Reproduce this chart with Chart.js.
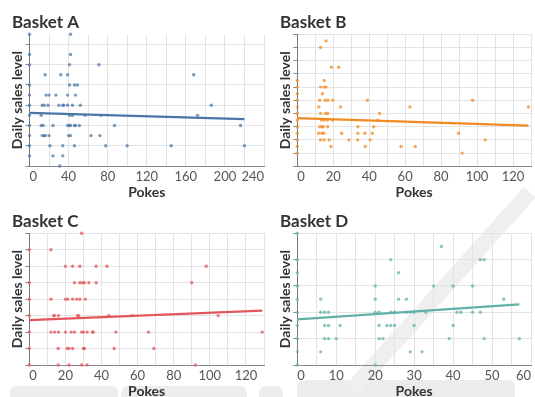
<!DOCTYPE html>
<html><head><meta charset="utf-8">
<script src="https://cdn.jsdelivr.net/npm/chart.js@4.4.1/dist/chart.umd.min.js"></script>
<style>
html,body{margin:0;padding:0;background:#fff;}
#wrap{position:relative;width:535px;height:397px;overflow:hidden;background:#fff;}
canvas{position:absolute;z-index:2;}
.wm{position:absolute;background:#ececec;border-radius:7px;z-index:1;}
</style></head><body>
<div id="wrap">
<div class="wm" style="left:10px;top:386px;width:108px;height:24px"></div>
<div class="wm" style="left:121px;top:386px;width:126px;height:24px"></div>
<div class="wm" style="left:259px;top:386px;width:24px;height:24px"></div>
<div class="wm" style="left:297px;top:380px;width:218px;height:30px"></div>
<div class="wm" style="left:308px;top:283px;width:266px;height:16px;border-radius:0;background:#efefef;transform:rotate(-48deg);"></div>
<canvas id="cA" width="268" height="200" style="left:0;top:0"></canvas>
<canvas id="cB" width="267" height="200" style="left:268px;top:0"></canvas>
<canvas id="cC" width="268" height="197" style="left:0;top:200px"></canvas>
<canvas id="cD" width="267" height="197" style="left:268px;top:200px"></canvas>
</div>
<script>
// ---------- DATA ----------
const titles = ['Basket A', 'Basket B', 'Basket C', 'Basket D'];
const xTitle = 'Pokes';
const yTitle = 'Daily sales level';

// Basket A
const pokesA = [0,42, 0,42, 0,41,71, 16,32,39,168, 0,41,46,49, 0,17,20,27,39,47,
  0,13,15,19,30,34,35,39,44,52,186, 0,12,41,44,57,73,172,
  0,12,14,24,39,41,42,46,47,51,87,216, 0,13,15,16,20,40,42,63,72,
  0,21,34,46,78,100,145,220, 0,24,34, 31];
const salesA = [13,13, 11,11, 10,10,10, 9,9,9,9, 8,8,8,8, 7,7,7,7,7,7,
  6,6,6,6,6,6,6,6,6,6,6, 5,5,5,5,5,5,5,
  4,4,4,4,4,4,4,4,4,4,4,4, 3,3,3,3,3,3,3,3,3,
  2,2,2,2,2,2,2,2, 1,1,1, 0];
const trendXA = [0, 220];
const trendYA = [5.24, 4.62];
const xTicksA = [0,20,40,60,80,100,120,140,160,180,200,220,240];
const xLabelsA = [0,40,80,120,160,200,240];
const yTicksA = [0,2,4,6,8,10,12];
const rangeA = {xMax: 240, yMax: 13};

// Basket B
const pokesB = [0,0,0,0,0,0,0,0,0,0,0,0,
  16, 13, 19,23, 15, 13,15,16, 14,
  12.5,15.5,17,19.7,39,97.5,
  12,24,62.6,128.6,
  13,15.7,16.9,45.8,
  13.5,15,16.7,19.5,44.7,
  12.5,13.7,14.4,16.9,33.7,42.5,
  11.8,13.7,14.7,24.7,33.7,37.6,41.7,89.7,
  12.9,14.9,17.8,28.7,33.6,40.5,104.5,
  18.7,37.8,57.7,65.6,
  91.7];
const salesB = [2,3,4,5,6,7,8,9,10,11,12,13,
  19, 18, 15,15, 13, 12,12,12, 11,
  10,10,10,10,10,10,
  9,9,9,9,
  8,8,8,8,
  7,7,7,7,7,
  6,6,6,6,6,6,
  5,5,5,5,5,5,5,5,
  4,4,4,4,4,4,4,
  3,3,3,3,
  2];
const trendXB = [0, 128.6];
const trendYB = [7.3, 6.15];
const xTicksB = [0,10,20,30,40,50,60,70,80,90,100,110,120,130];
const xLabelsB = [0,20,40,60,80,100,120];
const yTicksB = [0,2,4,6,8,10,12,14,16,18,20];
const rangeB = {xMax: 130, yMax: 20};

// Basket C
const pokesC = [29,
  0,12,
  20,24,28,37,43,98,
  0,25,28,29.5,30.5,33,37,90,
  0,12,20,21.3,24,26.2,28,31,
  0,13.5,14,16.2,26.8,27.3,44,57,104.6,
  0,12,14,16.2,20,23.2,25,29,30,32,35,35.4,48,66,129,
  0,16,21,22,24,30,30.5,47,69,
  0,16,22,29,32,92];
const salesC = [8,
  7,7,
  6,6,6,6,6,6,
  5,5,5,5,5,5,5,5,
  4,4,4,4,4,4,4,4,
  3,3,3,3,3,3,3,3,3,
  2,2,2,2,2,2,2,2,2,2,2,2,2,2,2,
  1,1,1,1,1,1,1,1,1,
  0,0,0,0,0,0];
const trendXC = [0, 129];
const trendYC = [2.73, 3.3];
const xTicksC = [0,10,20,30,40,50,60,70,80,90,100,110,120,130];
const xLabelsC = [0,20,40,60,80,100,120];
const yTicksC = [0,1,2,3,4,5,6,7,8];
const rangeC = {xMax: 130, yMax: 8};

// Basket D
const pokesD = [0,
  37,
  0,24,47,48,
  0,26,
  0,20,35,40,45,
  0,6,20,26,28,53,
  0,6,7,8,20,21,24,25,28,29,30,33,41,42,45,47,
  0,7,8,11,21,23,24,25,30,40,
  0,7,8,10,21,22,39,48,57,
  0,6,29,32,
  0,20];
const salesD = [10,
  9,
  8,8,8,8,
  7,7,
  6,6,6,6,6,
  5,5,5,5,5,5,
  4,4,4,4,4,4,4,4,4,4,4,4,4,4,4,4,
  3,3,3,3,3,3,3,3,3,3,
  2,2,2,2,2,2,2,2,2,
  1,1,1,1,
  0,0];
const trendXD = [0, 57];
const trendYD = [3.47, 4.6];
const xTicksD = [0,5,10,15,20,25,30,35,40,45,50,55,60];
const xLabelsD = [0,10,20,30,40,50,60];
const yTicksD = [0,2,4,6,8,10];
const rangeD = {xMax: 60, yMax: 10};

// ---------- CHARTS ----------
Chart.defaults.font.family = "Lato, 'DejaVu Sans', sans-serif";
const FONT = "Lato, 'DejaVu Sans', sans-serif";

function pts(xs, ys) { return xs.map((x, i) => ({x: x, y: ys[i]})); }

function make(id, title, pokes, sales, tx, ty, xTicks, xLabels, yTicks, range, style) {
  const ctx = document.getElementById(id);
  return new Chart(ctx, {
    type: 'scatter',
    data: {
      datasets: [
        {
          type: 'line', data: pts(tx, ty), borderColor: style.line, borderWidth: 2.2,
          pointRadius: 0, fill: false, tension: 0, clip: false
        },
        {
          data: pts(pokes, sales), backgroundColor: style.pt, borderWidth: 0,
          pointRadius: 1.7, clip: false
        }
      ]
    },
    options: {
      responsive: false, animation: false, devicePixelRatio: 1,
      layout: {padding: {left: 12, right: style.padR, top: 0, bottom: 0}},
      plugins: {
        legend: {display: false}, tooltip: {enabled: false},
        title: {
          display: true, text: title, align: 'start', color: '#333',
          font: {family: FONT, size: 17, weight: 'bold', lineHeight: 1.2},
          padding: {top: style.tTop, bottom: style.tBot}
        }
      },
      scales: {
        x: {
          type: 'linear', min: 0, max: range.xMax,
          afterBuildTicks: s => { s.ticks = xTicks.map(v => ({value: v})); },
          afterFit: s => { s.height = style.xH; s.paddingLeft = 0; s.paddingRight = 0; },
          grid: {color: '#e3e3e3', lineWidth: 1, drawTicks: false},
          border: {display: true, color: '#8a8a8a', width: 1},
          ticks: {
            autoSkip: false, maxRotation: 0, align: 'inner', padding: 3, color: '#555',
            font: {family: FONT, size: 13, lineHeight: 1.2},
            callback: v => (xLabels.indexOf(v) >= 0 ? String(v) : '')
          },
          title: {
            display: true, text: xTitle, color: '#333',
            font: {family: FONT, size: 14, weight: 'bold', lineHeight: 1},
            padding: {top: 0, bottom: style.xtB}
          }
        },
        y: {
          type: 'linear', min: 0, max: range.yMax,
          afterBuildTicks: s => { s.ticks = yTicks.map(v => ({value: v})); },
          afterFit: s => { s.width = style.yW; },
          grid: {color: '#e3e3e3', lineWidth: 1, drawTicks: true, tickLength: 4, tickColor: '#8a8a8a'},
          border: {display: true, color: '#777', width: 1},
          ticks: {display: false},
          title: {
            display: true, text: yTitle, color: '#333',
            font: {family: FONT, size: 14, weight: 'bold', lineHeight: 0.85},
            padding: {top: 0, bottom: 0}
          }
        }
      }
    }
  });
}

make('cA', titles[0], pokesA, salesA, trendXA, trendYA, xTicksA, xLabelsA, yTicksA, rangeA,
  {line: '#4a76a8', pt: 'rgba(78,121,167,0.75)', padR: 1.3, tTop: 12.5, tBot: 1.4, xH: 34, yW: 17.5, xtB: 0.5});
make('cB', titles[1], pokesB, salesB, trendXB, trendYB, xTicksB, xLabelsB, yTicksB, rangeB,
  {line: '#f28a22', pt: 'rgba(244,146,50,0.8)', padR: 1.7, tTop: 12.5, tBot: 1.4, xH: 33.7, yW: 17.3, xtB: 0.5});
make('cC', titles[2], pokesC, salesC, trendXC, trendYC, xTicksC, xLabelsC, yTicksC, rangeC,
  {line: '#e2575a', pt: 'rgba(228,90,92,0.78)', padR: 1.3, tTop: 11.5, tBot: 1.4, xH: 32, yW: 17.3, xtB: -1});
make('cD', titles[3], pokesD, salesD, trendXD, trendYD, xTicksD, xLabelsD, yTicksD, rangeD,
  {line: '#62b0a9', pt: 'rgba(110,182,175,0.8)', padR: 1, tTop: 11.5, tBot: 1.4, xH: 32, yW: 17.3, xtB: -1});
</script>
</body></html>
